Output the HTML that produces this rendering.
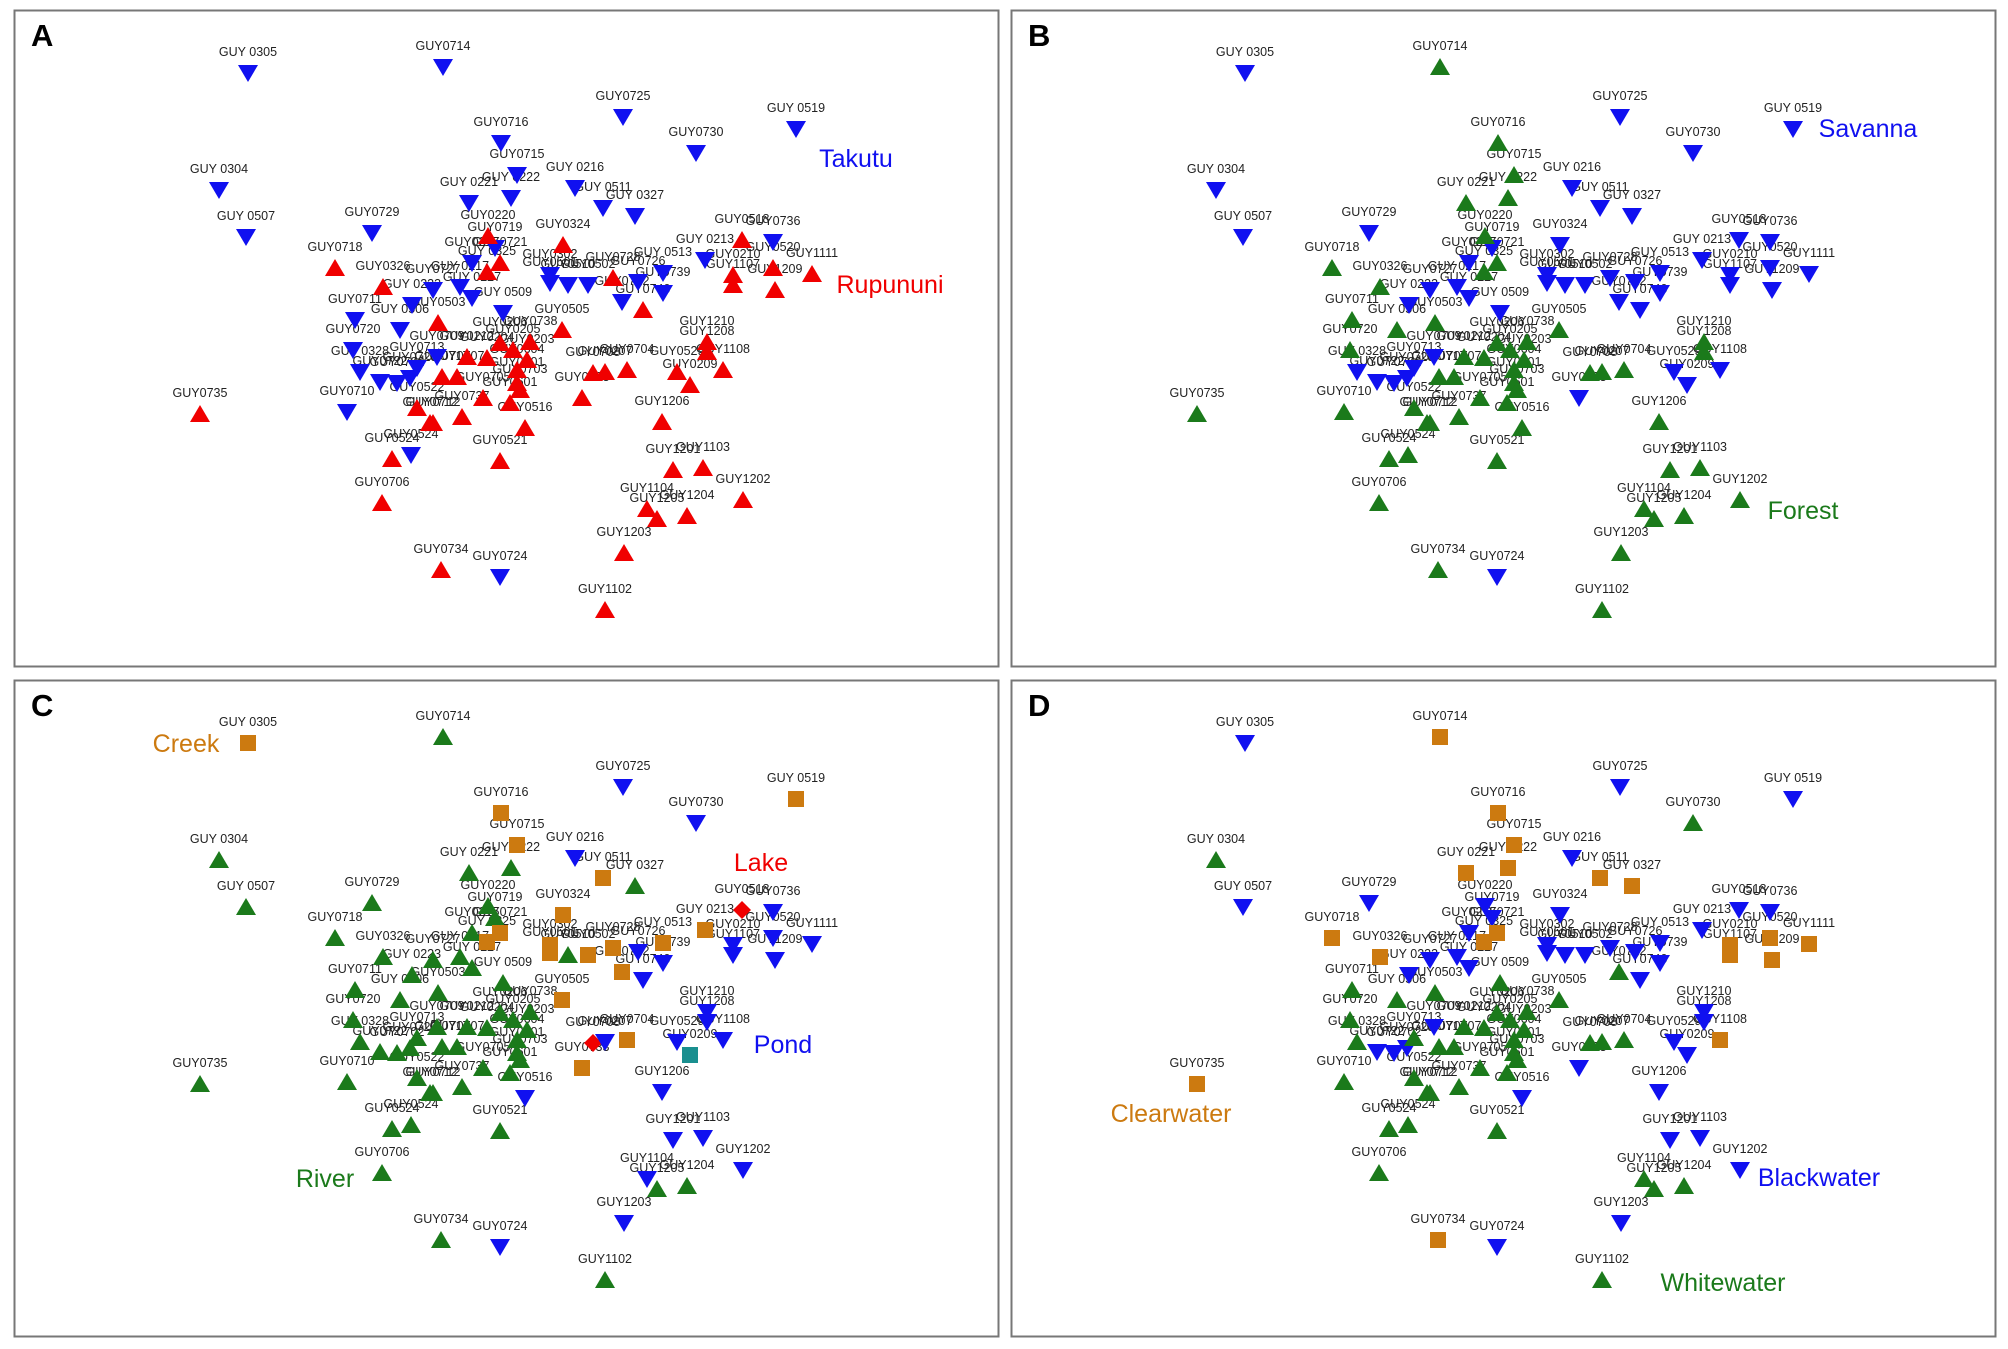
<!DOCTYPE html>
<html><head><meta charset="utf-8"><style>
html,body{margin:0;padding:0;background:#fff;}
svg{display:block;font-family:"Liberation Sans",Arial,sans-serif;}
</style></head><body>
<svg id="fig" width="2008" height="1349" viewBox="0 0 2008 1349"></svg>
<script>
// Site names and NMDS positions (plot units, panel A frame)
const names=["GUY 0305","GUY0714","GUY0725","GUY 0519","GUY0730","GUY 0304","GUY 0507","GUY0716","GUY0715","GUY 0222","GUY 0221","GUY 0216","GUY 0511","GUY 0327","GUY0729",
"GUY0719","GUY0215","GUY 0217","GUY 0227","GUY0727","GUY 0223","GUY 0506","GUY0711","GUY0720","GUY 0328","GUY0722","GUY0702","GUY0723","GUY0713","GUY0709","GUY 0509","GUY0710",
"GUY0302","GUY0501","GUY0510","GUY0502","GUY0726","GUY 0513","GUY0739","GUY0732","GUY 0213","GUY0736",
"GUY0220","GUY0721","GUY 0325","GUY0324","GUY0728","GUY0740","GUY0518","GUY0210","GUY1107","GUY0520","GUY1209","GUY1111","GUY0718","GUY0326",
"GUY0503","GUY0505","GUY0212","GUY0204","GUY0206","GUY0205","GUY0738","GUY0203","GUY0604","GUY0701","GUY0703","GUY0601","GUY0705","GUY0707","GUY0717","GUY0522","GUY0737","GUY0712x","GUY0516",
"GUY1210","GUY1208","GUY1108","GUY0529","GUY0209","GUY0733","GUY0708","GUY0207","GUY0704","GUY1206",
"GUY0735","GUY0524","GUY0524b","GUY0712","GUY0706","GUY0521","GUY1201","GUY1103","GUY1202","GUY1104","GUY1205","GUY1204","GUY1203","GUY1102","GUY0734","GUY0724"];
const nmds1=[248,443,623,796,696,219,246,501,517,511,469,575,603,635,372,
495,472,460,472,433,412,400,355,353,360,380,397,410,417,437,503,347,
550,550,568,588,638,663,663,622,705,773,
488,500,487,563,613,643,742,733,733,773,775,812,335,383,
438,562,467,487,500,513,530,527,517,517,520,510,483,457,442,417,462,433,525,
707,707,723,677,690,582,593,605,627,662,
200,392,411,430,382,500,673,703,743,647,657,687,624,605,441,500];
const nmds2=[73,67,117,129,153,190,237,143,175,198,203,188,208,216,233,
248,263,287,298,290,305,330,320,350,372,382,383,378,368,357,313,412,
275,283,285,285,282,273,293,302,260,242,
236,263,272,245,278,310,240,275,285,268,290,274,268,287,
323,330,357,358,343,350,342,360,370,383,390,403,398,377,377,408,417,423,428,
342,352,370,372,385,398,373,372,370,422,
414,459,455,423,503,461,470,468,500,509,519,516,553,610,570,577];
// Panel A: T=Takutu, R=Rupununi
const catA="TTTTTTTTTTTTTTT"+"TTTTTTTTTTTTTTTTT"+"TTTTTTTTTT"+"RRRRRRRRRRRRRR"+"RRRRRRRRRRRRRRRRRRR"+"RRRRRRRRRR"+"RRTRRRRRRRRRRRRT";
// Panel B: S=Savanna, F=Forest
const catB="SFSSSSSFFFFSSSS"+"SSSSSSFFFSSSSSSSF"+"SSSSSSSSSS"+"FFFSSSSSSSSSFF"+"FFFFFFFFFFFFFFFFFFF"+"FFSSSSFFFF"+"FFFFFFFFFFFFFFFS";
// Panel C: K=Creek, L=Lake, P=Pond, V=River, Q=other
const catC="KVPKPVVKKVVPKVV"+"VVVVVVVVVVVVVVVVV"+"KKVKPKPKKP"+"VKKKKPLPPPPPVV"+"VKVVVVVVVVVVVVVVVVP"+"PPPPQKLPKP"+"VVVVVVPPPPVVPVVP";
// Panel D: C=Clearwater, B=Blackwater, W=Whitewater
const catD="BCBBWWBCCCCBCCB"+"BBBBBBWWWWBBBWBWW"+"BBBBBBBWBB"+"BCCBBBBCCCCCCC"+"WWWWWWWWWWWWWWWWWWB"+"BBCBBBWWWB"+"CWWWWWBBBWWWBWCB";
const panelX=[14,1011,14,1011], panelY=[10,10,680,680];
const panelW=984, panelH=656;
const letters=["A","B","C","D"];
const cats=[catA,catB,catC,catD];
const legendText=[["Takutu","Rupununi"],["Savanna","Forest"],["Creek","Lake","Pond","River"],["Clearwater","Blackwater","Whitewater"]];
const legendCode=[["T","R"],["S","F"],["K","L","P","V"],["C","B","W"]];
const legendX=[[856,890],[871,806],[186,761,783,325],[174,822,726]];
const legendY=[[158,284],[128,510],[73,192,374,508],[443,507,612]];

const style={T:["down","#1010f0"],R:["up","#f00000"],S:["down","#1010f0"],F:["up","#1b7a1b"],
K:["sq","#cc7a10"],L:["dia","#f00000"],P:["down","#1010f0"],V:["up","#1b7a1b"],Q:["sq","#1a8f8f"],
C:["sq","#cc7a10"],B:["down","#1010f0"],W:["up","#1b7a1b"]};
const svg=document.getElementById('fig');
const NS="http://www.w3.org/2000/svg";
function xS(p,v){return panelX[p]+(v-14);}
function yS(p,v){return panelY[p]+(v-10);}
function mk(tag,attrs){const e=document.createElementNS(NS,tag);for(const k in attrs)e.setAttribute(k,attrs[k]);return e;}
for(let p=0;p<4;p++){
  const g=mk('g',{});
  
  
  svg.appendChild(g);
  const fr=mk('rect',{x:panelX[p]+0.5,y:panelY[p]+0.5,width:panelW,height:panelH,fill:'none',stroke:'#777','stroke-width':2});
  
  
  g.appendChild(fr);
  const lt=mk('text',{x:panelX[p]+17,y:panelY[p]+36,'font-size':31,'font-weight':'bold',fill:'#000'});
  lt.textContent=letters[p];
  
  
  g.appendChild(lt);
  for(let i=0;i<names.length;i++){
    const x=xS(p,nmds1[i]),y=yS(p,nmds2[i]);
    const t=mk('text',{x:x,y:y-17,'font-size':12.5,'text-anchor':'middle',fill:'#222'});
    t.textContent=names[i].replace(/[bx]$/,'');
    
    
    g.appendChild(t);
  }
  for(let i=0;i<names.length;i++){
    const x=xS(p,nmds1[i]),y=yS(p,nmds2[i]);
    const st=style[cats[p][i]]||style.T;
    let e;
    if(st[0]==='down')e=mk('polygon',{points:`${x-10},${y-8} ${x+10},${y-8} ${x},${y+9}`,fill:st[1]});
    else if(st[0]==='up')e=mk('polygon',{points:`${x-10},${y+8} ${x+10},${y+8} ${x},${y-9}`,fill:st[1]});
    else if(st[0]==='sq')e=mk('rect',{x:x-8,y:y-8,width:16,height:16,fill:st[1]});
    else e=mk('polygon',{points:`${x},${y-9} ${x+9},${y} ${x},${y+9} ${x-9},${y}`,fill:st[1]});
    
    
    g.appendChild(e);
  }
  for(let j=0;j<legendText[p].length;j++){
    const st=style[legendCode[p][j]];
    const t=mk('text',{x:xS(p,legendX[p][j]),y:yS(p,legendY[p][j])+9,'font-size':25,'text-anchor':'middle',fill:st[1]});
    t.textContent=legendText[p][j];
    
    
    g.appendChild(t);
  }
}
</script>
</body></html>
